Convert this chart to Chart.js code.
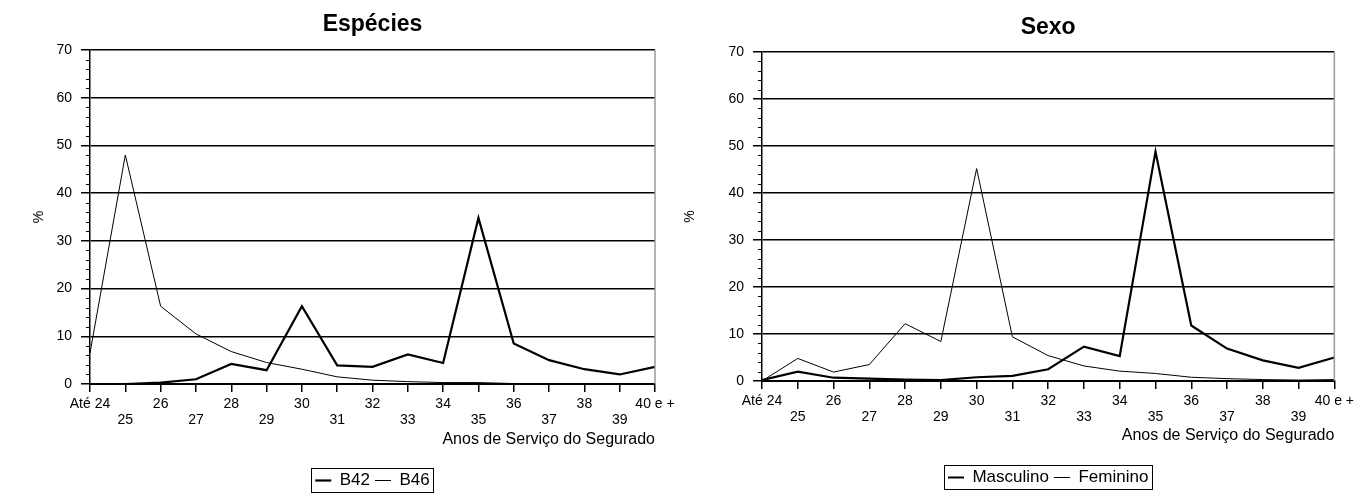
<!DOCTYPE html>
<html lang="pt">
<head>
<meta charset="utf-8">
<title>Espécies e Sexo</title>
<script src="https://cdn.jsdelivr.net/npm/chart.js@4/dist/chart.umd.min.js"></script>
<style>
  html, body { margin: 0; padding: 0; background: #fff; }
  #painel { position: relative; width: 1358px; height: 493px; }
  .bloco { position: absolute; top: 0; width: 679px; height: 493px; }
</style>
</head>
<body>
<div id="painel">
  <div class="bloco" style="left:0"><canvas id="especies" width="679" height="493"></canvas></div>
  <div class="bloco" style="left:679px"><canvas id="sexo" width="679" height="493"></canvas></div>
</div>
<script>
const anos = ["Até 24", "25", "26", "27", "28", "29", "30", "31", "32", "33", "34", "35", "36", "37", "38", "39", "40 e +"];

const b42 = [0, 0, 0.3, 1, 4.2, 2.9, 16.3, 3.9, 3.6, 6.2, 4.4, 34.8, 8.5, 5, 3.1, 2, 3.6];
const b46 = [6.5, 48, 16.3, 10.5, 6.8, 4.5, 3.1, 1.5, 0.8, 0.5, 0.3, 0.3, 0.1, 0, 0, 0, 0.1];

const masculino = [0.2, 2, 0.7, 0.5, 0.3, 0.2, 0.8, 1.1, 2.5, 7.3, 5.3, 48.8, 11.8, 6.9, 4.4, 2.8, 5];
const feminino = [0, 4.8, 1.9, 3.5, 12.2, 8.4, 45.2, 9.4, 5.4, 3.2, 2.1, 1.6, 0.8, 0.5, 0.3, 0.2, 0.3];

const yMin = 0;
const yMax = 70;
const passoY = 10;
const passoMenor = 2;

const fonte = "'Liberation Sans', Arial, Helvetica, sans-serif";
Chart.defaults.font.family = fonte;
Chart.defaults.color = "#000";

// marcas menores do eixo y, borda direita e caixa da legenda
const extras = {
  id: "extras",
  afterDraw(chart) {
    const ctx = chart.ctx;
    const area = chart.chartArea;
    const y = chart.scales.y;
    ctx.save();
    ctx.strokeStyle = "#000";
    ctx.lineWidth = 1;
    for (let v = yMin; v <= yMax; v += passoMenor) {
      if (v % passoY === 0) continue;
      const py = Math.round(y.getPixelForValue(v)) + 0.5;
      ctx.beginPath();
      ctx.moveTo(area.left - 4, py);
      ctx.lineTo(area.left, py);
      ctx.stroke();
    }
    ctx.strokeStyle = "#9a9a9a";
    ctx.lineWidth = 1.5;
    ctx.beginPath();
    ctx.moveTo(area.right, area.top);
    ctx.lineTo(area.right, area.bottom);
    ctx.stroke();

    const caixas = chart.legend.legendHitBoxes;
    if (caixas && caixas.length) {
      const esq = Math.min(...caixas.map(c => c.left)) - 4;
      const dir = Math.max(...caixas.map(c => c.left + c.width)) + 4;
      const topo = caixas[0].top - 4;
      const base = caixas[0].top + caixas[0].height + 3;
      ctx.strokeStyle = "#000";
      ctx.lineWidth = 1;
      ctx.strokeRect(Math.round(esq) + 0.5, Math.round(topo) + 0.5, Math.round(dir - esq), Math.round(base - topo));
    }
    ctx.restore();
  }
};

function criarGrafico(id, titulo, series, ajuste) {
  const ctx = document.getElementById(id).getContext("2d");
  return new Chart(ctx, {
    type: "line",
    data: {
      labels: anos,
      datasets: series.map(s => ({
        label: s.nome,
        data: s.valores,
        borderColor: "#000",
        backgroundColor: "#000",
        borderWidth: s.grossa ? 2.2 : 1,
        pointRadius: 0,
        pointStyle: "line",
        tension: 0,
        fill: false
      }))
    },
    options: {
      responsive: false,
      devicePixelRatio: 1,
      animation: false,
      layout: { padding: { left: 0, right: ajuste.direita, top: 0, bottom: 0 } },
      scales: {
        x: {
          grid: { drawOnChartArea: false, tickLength: 8, color: "#000", lineWidth: 1.5 },
          border: { color: "#000", width: 2 },
          ticks: {
            autoSkip: false,
            maxRotation: 0,
            padding: 4,
            font: { size: 14, lineHeight: 1.15 },
            callback: function (valor, i) {
              const rotulo = this.getLabelForValue(valor);
              return i % 2 ? ["", rotulo] : rotulo;
            }
          },
          title: {
            display: true,
            text: "Anos de Serviço do Segurado",
            align: "end",
            font: { size: 16 },
            padding: { top: 0, bottom: ajuste.tituloX }
          },
          afterFit: escala => { escala.height = 83; }
        },
        y: {
          min: yMin,
          max: yMax,
          ticks: { stepSize: passoY, padding: 9, font: { size: 14 } },
          grid: { color: "#000", lineWidth: 1.5, tickLength: 9 },
          border: { color: "#000", width: 1.5 },
          title: {
            display: true,
            text: "%",
            font: { size: 14 },
            padding: { top: ajuste.tituloY, bottom: 0 }
          },
          afterFit: escala => { escala.width = ajuste.larguraY; }
        }
      },
      plugins: {
        title: {
          display: true,
          text: titulo,
          fullSize: false,
          font: { size: 23, weight: "bold" },
          padding: { top: ajuste.tituloTopo, bottom: ajuste.tituloBase }
        },
        legend: {
          position: "bottom",
          fullSize: false,
          maxHeight: ajuste.legendaAltura,
          labels: {
            usePointStyle: true,
            pointStyleWidth: 16,
            padding: 5,
            color: "#000",
            font: { size: 17 }
          }
        },
        tooltip: { enabled: false }
      }
    },
    plugins: [extras]
  });
}

criarGrafico("especies", "Espécies", [
  { nome: "B42", valores: b42, grossa: true },
  { nome: "B46", valores: b46, grossa: false }
], { direita: 24, larguraY: 90, tituloY: 31, tituloTopo: 11, tituloBase: 11.4, tituloX: 17.4, legendaAltura: 26 });

criarGrafico("sexo", "Sexo", [
  { nome: "Masculino", valores: masculino, grossa: true },
  { nome: "Feminino", valores: feminino, grossa: false }
], { direita: 21, larguraY: 83, tituloY: 2.6, tituloTopo: 14, tituloBase: 10.4, tituloX: 18.4, legendaAltura: 29 });
</script>
</body>
</html>
